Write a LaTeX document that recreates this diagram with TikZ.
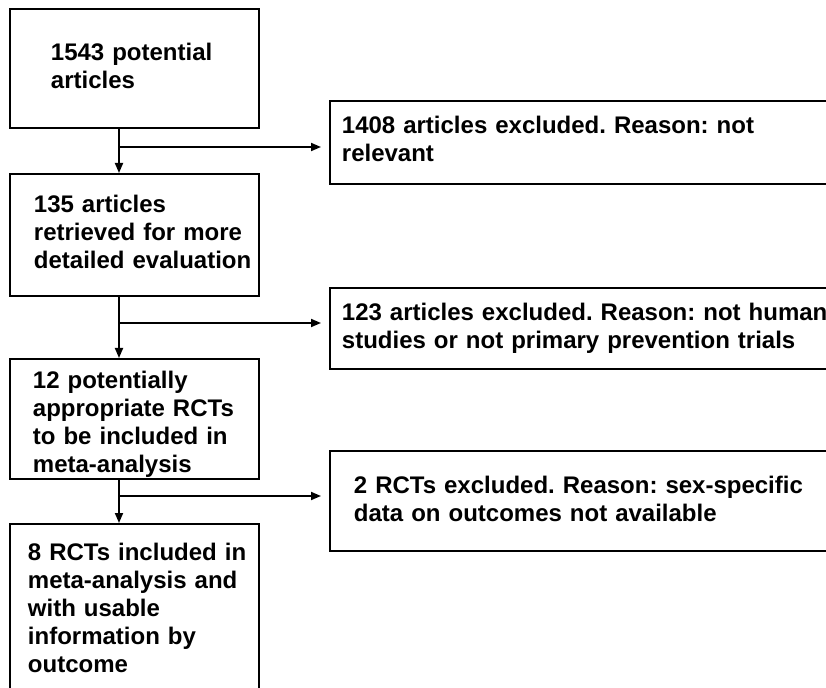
\documentclass[tikz,border=0pt]{standalone}
\usepackage{fontspec}
\setmainfont{Liberation Sans}
\usetikzlibrary{arrows.meta}

\begin{document}
\begin{tikzpicture}[
    x=0.75pt, y=-0.75pt,
    >={Triangle[length=7.5pt,width=6pt]},
    box/.style      = {draw, line width=1.4pt, anchor=north west, inner xsep=0pt, inner ysep=0pt,
                       align=left, font=\bfseries\frenchspacing\fontsize{18pt}{21pt}\selectfont},
    stage/.style    = {box, text width=186.75pt},
    excluded/.style = {box, text width=390pt},
    indent/.style   = {execute at begin node={\leftskip=#1}},
    flow/.style     = {line width=1.3pt, ->},
  ]

	\useasboundingbox (0,0) rectangle (826,688);
	\clip (0,0) rectangle (826,688);

	% Stufen (linke Spalte)
	\node (found) at (9,8) [stage, indent=30.75pt, text height=39pt, text depth=50.25pt]
		{1543 potential\\articles};
	\node (screened) at (9,173) [stage, indent=18pt, text height=29.25pt, text depth=62.25pt]
		{135 articles\\retrieved for more\\detailed evaluation};
	\node (eligible) at (9,358) [stage, indent=17.25pt, text height=22.5pt, text depth=67.5pt]
		{12 potentially\\appropriate RCTs\\to be included in\\meta-analysis};
	\node (included) at (9,523) [stage, indent=13.5pt, text height=27.75pt, text depth=120pt]
		{8 RCTs included in\\meta-analysis and\\with usable\\information by\\outcome};

	% Ausschluesse (rechte Spalte)
	\node (excl1) at (329,100) [excluded, indent=9pt, text height=24.75pt, text depth=37.5pt]
		{1408 articles excluded. Reason: not\\relevant};
	\node (excl2) at (329,287) [excluded, indent=9pt, text height=24.75pt, text depth=36pt]
		{123 articles excluded. Reason: not human\\studies or not primary prevention trials};
	\node (excl3) at (329,450) [excluded, indent=18pt, text height=32.25pt, text depth=42.75pt]
		{2 RCTs excluded. Reason: sex-specific\\data on outcomes not available};

	% Abzweigpunkte
	\coordinate (split1) at (119,147);
	\coordinate (split2) at (119,323);
	\coordinate (split3) at (119,496);

	% Pfeile nach unten
	\draw[flow] (found.south -| split1) -- (screened.north -| split1);
	\draw[flow] (screened.south -| split2) -- (eligible.north -| split2);
	\draw[flow] (eligible.south -| split3) -- (included.north -| split3);

	% Pfeile nach rechts
	\draw[flow, shorten >=6pt] (split1) -- (split1 -| excl1.west);
	\draw[flow, shorten >=6pt] (split2) -- (split2 -| excl2.west);
	\draw[flow, shorten >=6pt] (split3) -- (split3 -| excl3.west);

\end{tikzpicture}
\end{document}
